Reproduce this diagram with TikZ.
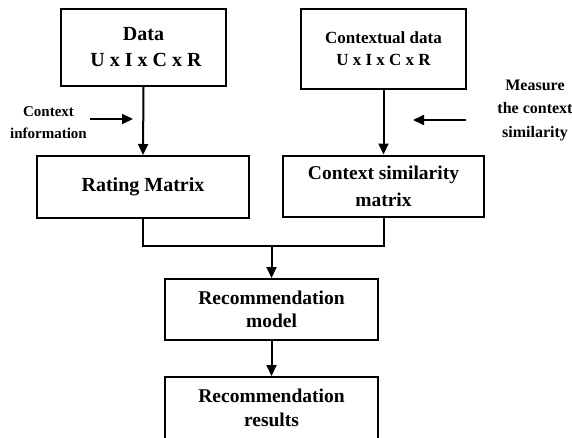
\documentclass[tikz,border=0pt]{standalone}
\usepackage{fontspec}
\setmainfont{Liberation Serif}
\usetikzlibrary{arrows.meta}
\begin{document}
\begin{tikzpicture}[x=1pt,y=-1pt,
  box/.style={draw,line width=2pt,inner sep=0pt,align=center,font=\bfseries},
  line/.style={line width=2pt},
  arr/.style={line width=2pt,-{Triangle[length=11pt,width=10pt]}},
  lbl/.style={align=center,font=\bfseries\fontsize{15}{22}\selectfont}]
\useasboundingbox (0,0) rectangle (572,437);
\clip (0,0) rectangle (572,437);
\node[box,minimum width=165,minimum height=77,font=\bfseries\fontsize{20}{26}\selectfont] (data) at (143.5,47.5) {Data\\\ U x I x C x R};
\node[box,minimum width=165,minimum height=80,font=\bfseries\fontsize{17}{22}\selectfont] (ctx) at (383.5,49) {Contextual data\\U x I x C x R};
\node[box,minimum width=212,minimum height=62,font=\bfseries\fontsize{20}{24}\selectfont] (rating) at (143,187) {Rating Matrix};
\node[box,minimum width=201,minimum height=61,font=\bfseries\fontsize{19.5}{27}\selectfont] (csim) at (383.5,186) {Context similarity\\matrix};
\node[box,minimum width=213,minimum height=61,font=\bfseries\fontsize{19.5}{23}\selectfont] (model) at (271.5,309.5) {Recommendation\\model};
\node[box,minimum width=213,minimum height=62,font=\bfseries\fontsize{19.5}{24}\selectfont] (results) at (271.5,408) {Recommendation\\results};
\node[lbl] (cinfo) at (48.5,123) {Context\\information};
\node[lbl,font=\bfseries\fontsize{16}{23.5}\selectfont] (meas) at (535,110) {Measure\\the context\\similarity};
\coordinate (ca1) at (90,119);
\coordinate (ca2) at (133,119);
\coordinate (ma1) at (466,120);
\coordinate (ma2) at (413,120);
\coordinate (j) at (271.5,246);
\draw[arr] (data.south) -- (rating.north);
\draw[arr] (ctx.south) -- (csim.north);
\draw[arr] (ca1) -- (ca2);
\draw[arr] (ma1) -- (ma2);
\draw[line] (rating.south) |- (csim.south |- j) -- (csim.south);
\draw[arr] (j) -- (model.north);
\draw[arr] (model.south) -- (results.north);
\end{tikzpicture}
\end{document}
